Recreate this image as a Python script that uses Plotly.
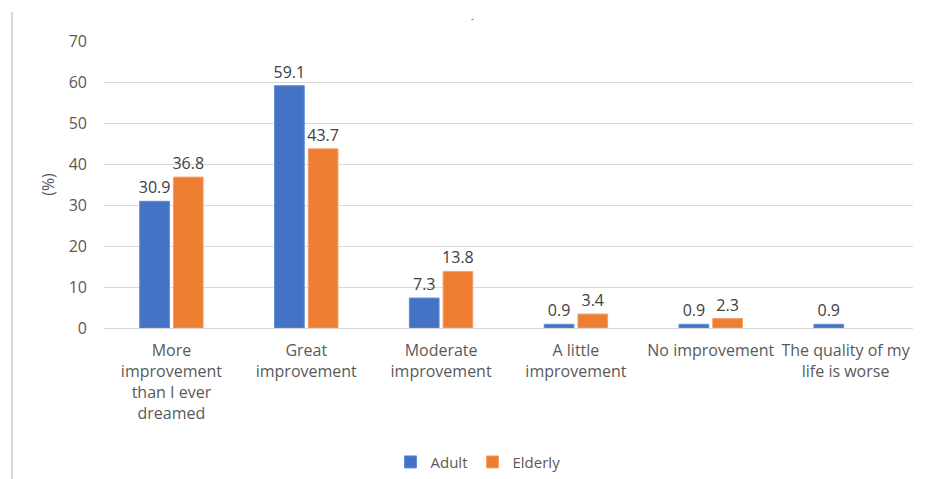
import plotly.graph_objects as go

categories = [
    "More<br>improvement<br>than I ever<br>dreamed",
    "Great<br>improvement",
    "Moderate<br>improvement",
    "A little<br>improvement",
    "No improvement",
    "The quality of my<br>life is worse",
]
adult = [30.9, 59.1, 7.3, 0.9, 0.9, 0.9]
elderly = [36.8, 43.7, 13.8, 3.4, 2.3, None]

BLUE = "#4472C4"
ORANGE = "#ED7D31"
TEXT = "#595959"
FONT = "Open Sans"

W, H = 932, 479
ML, MR, MT, MB = 104, 19, 41, 151

fig = go.Figure()
fig.add_trace(go.Bar(
    name="Adult", x=categories, y=adult, marker_color=BLUE,
    marker_line=dict(color="#5B8BD9", width=1),
    text=[f"{v:.1f}" for v in adult], textposition="outside",
    constraintext="none",
    textfont=dict(size=16, color="#404040", family=FONT), cliponaxis=False,
))
fig.add_trace(go.Bar(
    name="Elderly", x=categories, y=elderly, marker_color=ORANGE,
    marker_line=dict(color="#F4A06A", width=1),
    text=[f"{v:.1f}" if v is not None else "" for v in elderly], textposition="outside",
    constraintext="none",
    textfont=dict(size=16, color="#404040", family=FONT), cliponaxis=False,
))

pw = W - ML - MR
ph = H - MT - MB
# thin frame line at the left edge of the chart area
fig.add_shape(type="line", xref="paper", yref="paper",
              x0=(12 - ML) / pw, x1=(12 - ML) / pw,
              y0=-MB / ph, y1=(H - MB - 12) / ph,
              line=dict(color="#D9D9D9", width=2))
fig.add_annotation(text="-", xref="paper", yref="paper",
                   x=(472 - ML) / pw, y=(H - MB - 10) / ph,
                   showarrow=False, font=dict(size=9, color="#404040", family=FONT))

fig.update_layout(
    width=W, height=H,
    margin=dict(l=ML, r=MR, t=MT, b=MB, pad=0, autoexpand=False),
    paper_bgcolor="white", plot_bgcolor="white",
    barmode="group", bargap=0.5, bargroupgap=0.12,
    font=dict(family=FONT, color=TEXT, size=16),
    showlegend=True,
    legend=dict(orientation="h", x=(478 - ML) / pw, xanchor="center", y=-0.41, yanchor="top",
                font=dict(size=15, color=TEXT), itemwidth=30,
                traceorder="normal"),
    yaxis=dict(range=[0, 70], dtick=10, showgrid=True, gridcolor="#D9D9D9",
               gridwidth=1, zeroline=False, showline=False, automargin=False,
               ticks="", ticklabelstandoff=16,
               tickfont=dict(size=16, color=TEXT),
               title=dict(text="(%)", font=dict(size=16, color=TEXT), standoff=10)),
    xaxis=dict(showline=True, linecolor="#D9D9D9", linewidth=1, ticks="",
               automargin=False,
               tickfont=dict(size=16, color=TEXT), tickangle=0,
               ticklabelstandoff=8),
)

fig.write_html("out.html")
